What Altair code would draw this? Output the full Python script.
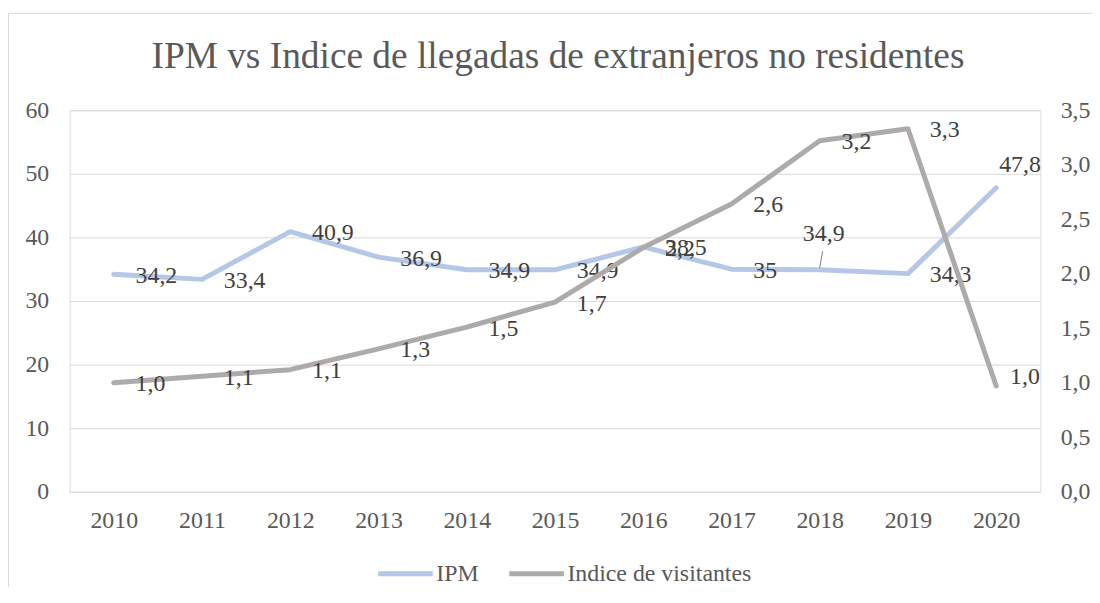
import altair as alt
import pandas as pd

# ---------------- data ----------------
YEARS = ["2010", "2011", "2012", "2013", "2014", "2015", "2016", "2017", "2018", "2019", "2020"]
IPM = [34.2, 33.4, 40.9, 36.9, 34.9, 34.9, 38.5, 35.0, 34.9, 34.3, 47.8]
IPM_LABELS = ["34,2", "33,4", "40,9", "36,9", "34,9", "34,9", "38,5", "35", "34,9", "34,3", "47,8"]
VISITANTES = [1.00, 1.06, 1.12, 1.31, 1.51, 1.74, 2.24, 2.64, 3.22, 3.33, 0.97]
VIS_LABELS = ["1,0", "1,1", "1,1", "1,3", "1,5", "1,7", "2,2", "2,6", "3,2", "3,3", "1,0"]
SERIES = ["IPM", "Indice de visitantes"]
LEFT_TICKS = [0, 10, 20, 30, 40, 50, 60]
RIGHT_TICKS = [0.0, 0.5, 1.0, 1.5, 2.0, 2.5, 3.0, 3.5]
TITLE = "IPM vs Indice de llegadas de extranjeros no residentes"

# ---------------- style ----------------
FONT = "Liberation Serif"
COLORS = ["#B4C7E7", "#AEAAAA"]
AXIS_COLOR = "#595959"
LABEL_COLOR = "#404040"
GRID = "#D9D9D9"
FS = 24

# label placement per point (style only)
IPM_PLACE = ["right"] * 8 + ["above_leader", "right", "above_right"]
VIS_PLACE = ["right"] * 10 + ["right_up"]
PLACEMENT = {
    "right": dict(align="left", dx=22, dy=1.5),
    "above_leader": dict(align="center", dx=4, dy=-36),
    "above_right": dict(align="left", dx=3, dy=-23),
    "right_up": dict(align="left", dx=14, dy=-9),
}

df = pd.DataFrame({
    "year": YEARS,
    "ipm": IPM,
    "ipm_label": IPM_LABELS,
    "ipm_place": IPM_PLACE,
    "vis": VISITANTES,
    "vis_label": VIS_LABELS,
    "vis_place": VIS_PLACE,
})

W, H = 977, 384

x_enc = alt.X(
    "year:O",
    scale=alt.Scale(type="point", padding=0.5),
    axis=alt.Axis(
        title=None, labelAngle=0, ticks=False, tickSize=0, domain=False, grid=False,
        labelFont=FONT, labelFontSize=FS, labelColor=AXIS_COLOR,
        labelPadding=17, labelBaseline="top",
    ),
)

color_enc = alt.Color(
    "series:N",
    scale=alt.Scale(domain=SERIES, range=COLORS),
    legend=alt.Legend(
        title=None, orient="none", legendX=308, legendY=436.5, direction="horizontal",
        symbolType="stroke", symbolSize=3025, symbolStrokeWidth=5,
        labelFont=FONT, labelFontSize=FS, labelColor=AXIS_COLOR, labelLimit=0,
        labelOffset=1, columnPadding=20, padding=0,
    ),
)

base = alt.Chart(df)

y_left = alt.Y(
    "ipm:Q",
    scale=alt.Scale(domain=[0, 60], nice=False, zero=True),
    axis=alt.Axis(
        orient="left", title=None, values=LEFT_TICKS, ticks=False, tickSize=0, domain=False,
        grid=True, gridColor=GRID, gridWidth=1,
        labelFont=FONT, labelFontSize=FS, labelColor=AXIS_COLOR, labelPadding=21,
    ),
)
y_right = alt.Y(
    "vis:Q",
    scale=alt.Scale(domain=[0, 3.5], nice=False, zero=True),
    axis=alt.Axis(
        orient="right", title=None, values=RIGHT_TICKS, ticks=False, tickSize=0, domain=False,
        grid=False, labelExpr="replace(format(datum.value, '.1f'), '.', ',')",
        labelFont=FONT, labelFontSize=FS, labelColor=AXIS_COLOR, labelPadding=20,
    ),
)

one = pd.DataFrame({"title": [TITLE]})

frame = alt.Chart(one).mark_rect(
    fillOpacity=0, stroke=GRID, strokeWidth=1
).encode(
    x=alt.value(-61.5), x2=alt.value(1200), y=alt.value(-97.5), y2=alt.value(800)
)

title = alt.Chart(one).mark_text(
    font=FONT, fontSize=37.6, color=AXIS_COLOR, align="center", baseline="alphabetic"
).encode(x=alt.value(W / 2 + 3), y=alt.value(-42), text="title:N")

ipm_line = base.transform_calculate(series="'IPM'").mark_line(
    strokeWidth=5, strokeCap="round", strokeJoin="round"
).encode(x=x_enc, y=y_left, color=color_enc)

vis_line = base.transform_calculate(series="'Indice de visitantes'").mark_line(
    strokeWidth=5, strokeCap="round", strokeJoin="round"
).encode(x=x_enc, y=y_right, color=color_enc)


def label_layers(field_place, field_label, y_enc, places):
    layers = []
    for p in dict.fromkeys(places):
        st = PLACEMENT[p]
        layers.append(
            base.transform_filter(f"datum.{field_place} == '{p}'").mark_text(
                font=FONT, fontSize=FS, color=LABEL_COLOR, baseline="middle",
                align=st["align"], dx=st["dx"], dy=st["dy"],
            ).encode(x=x_enc, y=y_enc, text=f"{field_label}:N")
        )
    return layers


leader = base.transform_filter("datum.ipm_place == 'above_leader'").mark_rule(
    color="#7F7F7F", strokeWidth=1, yOffset=-2, y2Offset=-19, x2Offset=3
).encode(x=x_enc, x2=alt.X2("year"), y=y_left, y2=alt.Y2("ipm"))

left = alt.layer(frame, title, ipm_line, leader, *label_layers("ipm_place", "ipm_label", y_left, IPM_PLACE))
right = alt.layer(vis_line, *label_layers("vis_place", "vis_label", y_right, VIS_PLACE))

chart = alt.layer(left, right).resolve_scale(y="independent").properties(
    width=W,
    height=H,
    autosize=alt.AutoSizeParams(type="none"),
    padding={"left": 62, "top": 101, "right": 52, "bottom": 94},
).configure_view(stroke=None).configure(background="white")

chart.save("out.html", embed_options={"renderer": "svg", "actions": False})
